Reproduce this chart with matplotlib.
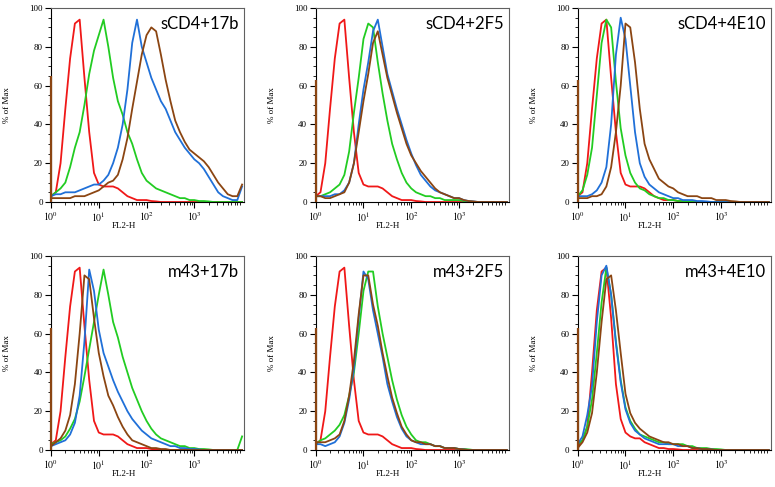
import numpy as np
import matplotlib
matplotlib.use('Agg')
import matplotlib.pyplot as plt
from matplotlib.ticker import MultipleLocator, FixedLocator, NullFormatter

# log10 positions of the sampled points (0.1 decade steps)
log_pos = [0.0, 0.1, 0.2, 0.3, 0.4, 0.5, 0.6, 0.7, 0.8, 0.9,
           1.0, 1.1, 1.2, 1.3, 1.4, 1.5, 1.6, 1.7, 1.8, 1.9,
           2.0, 2.1, 2.2, 2.3, 2.4, 2.5, 2.6, 2.7, 2.8, 2.9,
           3.0, 3.1, 3.2, 3.3, 3.4, 3.5, 3.6, 3.7, 3.8, 3.9, 4.0]

# control (red) histogram, same in first five panels
red_ctrl = [3, 5, 20, 48, 74, 92, 94, 64, 36, 15, 9, 8, 8, 8, 7, 5, 3, 2, 1, 1,
            1, 0.5, 0.3, 0, 0, 0, 0, 0, 0, 0, 0, 0, 0, 0, 0, 0, 0, 0, 0, 0, 0]

# sCD4+17b
green_p1 = [3, 5, 7, 10, 18, 28, 36, 50, 66, 78, 86, 94, 80, 64, 52, 45, 36, 30, 22, 15,
            11, 9, 7, 6, 5, 4, 3, 2, 2, 1, 1, 0.5, 0.5, 0.3, 0, 0, 0, 0, 0, 0, 0]
blue_p1 = [3, 4, 4, 5, 5, 5, 6, 7, 8, 9, 9, 11, 14, 20, 28, 40, 58, 82, 94, 80,
           72, 64, 58, 52, 48, 42, 36, 32, 28, 25, 22, 20, 17, 13, 9, 5, 3, 2, 1, 1, 8]
brown_p1 = [2, 2, 2, 2, 2, 3, 3, 3, 4, 5, 6, 8, 10, 11, 14, 22, 33, 48, 62, 76,
            86, 90, 88, 76, 63, 52, 42, 36, 31, 27, 25, 23, 21, 18, 14, 10, 7, 4, 3, 3, 9]

# sCD4+2F5
green_p2 = [3, 3, 4, 5, 7, 9, 14, 26, 46, 64, 84, 92, 90, 72, 56, 42, 30, 22, 15, 10,
            7, 5, 4, 3, 3, 2, 2, 1, 1, 1, 1, 0.5, 0.3, 0, 0, 0, 0, 0, 0, 0, 0]
blue_p2 = [3, 3, 3, 3, 4, 4, 6, 10, 20, 40, 58, 72, 88, 94, 80, 66, 57, 48, 40, 32,
           25, 19, 14, 11, 8, 6, 5, 4, 3, 2, 2, 1, 0.5, 0.3, 0, 0, 0, 0, 0, 0, 0]
brown_p2 = [3, 3, 2, 2, 3, 4, 5, 10, 20, 36, 52, 66, 82, 88, 76, 64, 55, 46, 38, 30,
            24, 20, 16, 13, 10, 7, 5, 4, 3, 2, 2, 1, 0.5, 0.3, 0, 0, 0, 0, 0, 0, 0]

# sCD4+4E10
green_p3 = [3, 6, 14, 28, 55, 82, 94, 90, 62, 38, 24, 15, 10, 7, 6, 4, 3, 2, 2, 1,
            1, 0.5, 0.5, 0.3, 0, 0, 0, 0, 0, 0, 0, 0, 0, 0, 0, 0, 0, 0, 0, 0, 0]
blue_p3 = [3, 3, 3, 4, 6, 10, 18, 40, 76, 95, 84, 60, 36, 20, 13, 9, 7, 5, 4, 3,
           2, 2, 1, 1, 1, 0.5, 0.5, 0.3, 0, 0, 0, 0, 0, 0, 0, 0, 0, 0, 0, 0, 0]
brown_p3 = [2, 2, 2, 3, 3, 4, 8, 18, 36, 60, 92, 90, 72, 48, 30, 22, 17, 12, 10, 8,
            7, 5, 4, 3, 3, 3, 2, 2, 2, 1, 1, 1, 0.5, 0.3, 0, 0, 0, 0, 0, 0, 0]

# m43+17b
green_p4 = [3, 4, 5, 7, 11, 16, 25, 38, 52, 66, 80, 93, 80, 66, 58, 48, 40, 32, 26, 20,
            15, 11, 8, 6, 5, 4, 3, 2, 2, 1, 1, 0.5, 0.5, 0.3, 0, 0, 0, 0, 0, 0, 7]
blue_p4 = [2, 3, 4, 5, 8, 14, 28, 56, 93, 82, 62, 50, 43, 36, 30, 25, 20, 16, 13, 10,
           8, 6, 5, 4, 3, 2, 2, 1, 1, 0.5, 0.5, 0.3, 0, 0, 0, 0, 0, 0, 0, 0, 0]
brown_p4 = [2, 4, 6, 10, 18, 34, 60, 90, 88, 68, 50, 38, 28, 23, 17, 12, 8, 5, 4, 3,
            2, 1, 1, 0.5, 0.5, 0, 0, 0, 0, 0, 0, 0, 0, 0, 0, 0, 0, 0, 0, 0, 0]

# m43+2F5
green_p5 = [3, 5, 6, 8, 10, 13, 18, 28, 40, 60, 82, 92, 92, 74, 60, 48, 36, 26, 18, 12,
            8, 5, 4, 4, 3, 2, 2, 1, 1, 1, 0.5, 0.5, 0.3, 0, 0, 0, 0, 0, 0, 0, 0]
blue_p5 = [3, 3, 2, 3, 4, 7, 14, 26, 42, 68, 92, 88, 72, 60, 48, 34, 25, 17, 11, 7,
           5, 4, 3, 3, 3, 2, 2, 1, 1, 1, 0.5, 0.3, 0, 0, 0, 0, 0, 0, 0, 0, 0]
brown_p5 = [4, 4, 4, 5, 6, 8, 15, 28, 46, 70, 90, 90, 75, 64, 50, 38, 27, 19, 12, 8,
            5, 4, 4, 3, 3, 2, 2, 1, 1, 1, 0.5, 0.3, 0, 0, 0, 0, 0, 0, 0, 0, 0]

# m43+4E10
red_p6 = [2, 5, 12, 40, 72, 92, 94, 68, 34, 16, 9, 7, 6, 6, 4, 3, 2, 1, 1, 0.5,
          0.5, 0.3, 0, 0, 0, 0, 0, 0, 0, 0, 0, 0, 0, 0, 0, 0, 0, 0, 0, 0, 0]
green_p6 = [3, 5, 12, 26, 50, 76, 94, 80, 56, 36, 22, 15, 11, 8, 7, 6, 5, 4, 4, 3,
            3, 3, 3, 2, 2, 1, 1, 1, 0.5, 0.5, 0.3, 0, 0, 0, 0, 0, 0, 0, 0, 0, 0]
blue_p6 = [3, 7, 18, 33, 66, 90, 95, 80, 55, 35, 21, 14, 10, 8, 6, 5, 4, 3, 3, 3,
           3, 2, 2, 2, 1, 1, 0.5, 0.5, 0.3, 0, 0, 0, 0, 0, 0, 0, 0, 0, 0, 0, 0]
brown_p6 = [1, 4, 9, 19, 40, 66, 88, 90, 72, 50, 29, 19, 14, 11, 9, 7, 6, 5, 4, 4,
            3, 3, 2, 2, 1, 1, 0.5, 0.5, 0.3, 0, 0, 0, 0, 0, 0, 0, 0, 0, 0, 0, 0]

titles = ['sCD4+17b', 'sCD4+2F5', 'sCD4+4E10', 'm43+17b', 'm43+2F5', 'm43+4E10']
reds = [red_ctrl, red_ctrl, red_ctrl, red_ctrl, red_ctrl, red_p6]
greens = [green_p1, green_p2, green_p3, green_p4, green_p5, green_p6]
blues = [blue_p1, blue_p2, blue_p3, blue_p4, blue_p5, blue_p6]
browns = [brown_p1, brown_p2, brown_p3, brown_p4, brown_p5, brown_p6]
first_bin = [65, 63, 63, 63, 63, 63]  # spike in first channel (brown)

c_red = '#f01818'
c_green = '#22cc22'
c_blue = '#2070d8'
c_brown = '#8b4512'

plt.rcParams['mathtext.fontset'] = 'stix'

fig = plt.figure(figsize=(7.75, 4.87), dpi=100)

lefts = [51, 315.7, 577.7]
tops = [8, 256]
W, H = 775.0, 487.0

x = 10 ** np.array(log_pos)

for i in range(6):
    r, c = divmod(i, 3)
    ax = fig.add_axes([lefts[c] / W, 1 - (tops[r] + 194) / H, 193 / W, 194 / H])

    ax.plot(x, reds[i], color=c_red, lw=1.3)
    ax.plot(x, greens[i], color=c_green, lw=1.3)
    ax.plot(x, blues[i], color=c_blue, lw=1.3)
    ax.plot(x, browns[i], color=c_brown, lw=1.3)
    ax.vlines(1.0, 0, first_bin[i], color=c_brown, lw=1.6, clip_on=False, zorder=5)

    ax.set_xscale('log')
    ax.set_xlim(1, 10 ** 4.04)
    ax.set_ylim(0, 100)

    ax.xaxis.set_major_locator(FixedLocator([1, 10, 100, 1000]))
    ax.set_xticklabels([r'$10^0$', r'$10^1$', r'$10^2$', r'$10^3$'])
    minors = [m * 10 ** d for d in range(4) for m in range(2, 10)]
    ax.xaxis.set_minor_locator(FixedLocator(minors))
    ax.xaxis.set_minor_formatter(NullFormatter())
    ax.yaxis.set_major_locator(MultipleLocator(20))
    ax.yaxis.set_minor_locator(MultipleLocator(5))

    ax.tick_params(which='major', direction='out', length=4, width=0.8,
                   labelsize=7, pad=2)
    ax.tick_params(which='minor', direction='out', length=2, width=0.6)
    for lab in ax.get_yticklabels():
        lab.set_fontfamily('Liberation Serif')
        lab.set_fontsize(6.5)

    for s in ['top', 'right']:
        ax.spines[s].set_color('#606060')
        ax.spines[s].set_linewidth(0.8)
    for s in ['left', 'bottom']:
        ax.spines[s].set_color('black')
        ax.spines[s].set_linewidth(0.8)

    ax.set_ylabel('% of Max', fontfamily='Liberation Serif', fontsize=6.5)
    ax.yaxis.set_label_coords(-0.205, 0.5)
    ax.set_xlabel('FL2-H', fontfamily='Liberation Serif', fontsize=6.5)
    ax.xaxis.set_label_coords(0.375, -0.105)

    ax.text(0.975, 0.92, titles[i], transform=ax.transAxes, ha='right',
            va='center', fontsize=12, fontfamily='Lato')

fig.savefig('out.png', dpi=100)
